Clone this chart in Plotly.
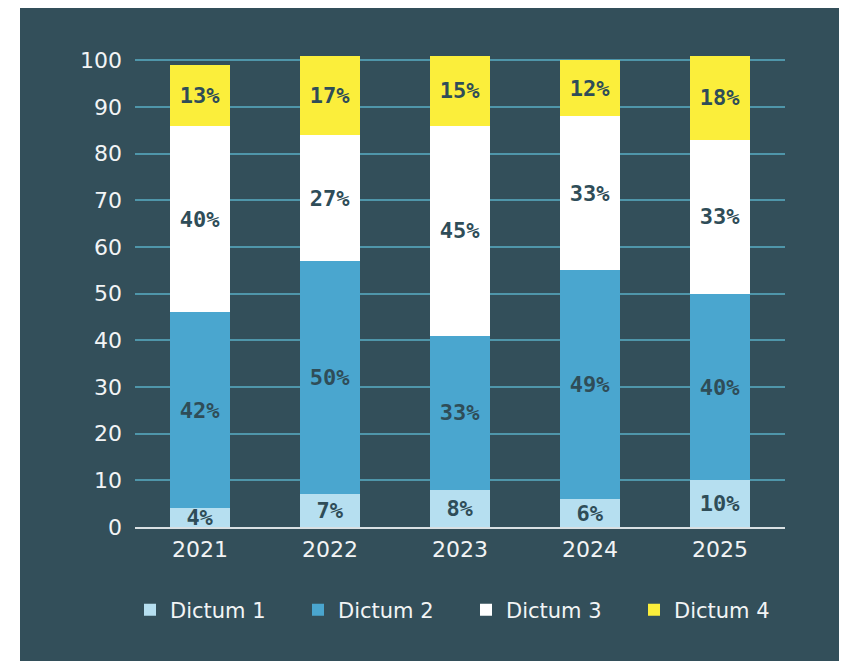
import plotly.graph_objects as go

years = ["2021", "2022", "2023", "2024", "2025"]
dictum1 = [4, 7, 8, 6, 10]
dictum2 = [42, 50, 33, 49, 40]
dictum3 = [40, 27, 45, 33, 33]
dictum4 = [13, 17, 15, 12, 18]
series_names = ["Dictum 1", "Dictum 2", "Dictum 3", "Dictum 4"]
series_values = [dictum1, dictum2, dictum3, dictum4]
colors = ["#b6dff0", "#4aa6cf", "#ffffff", "#fbee3b"]
y_ticks = [0, 10, 20, 30, 40, 50, 60, 70, 80, 90, 100]

BG = "#334f5a"
TEXT_DARK = "#2f4d58"

fig = go.Figure()
for name, vals, col in zip(series_names, series_values, colors):
    fig.add_trace(go.Bar(
        name=name, x=years, y=vals,
        marker=dict(color=col, line=dict(width=0)),
        texttemplate="%{y}%",
        textposition="inside",
        insidetextanchor="middle",
        constraintext="none",
        textangle=0,
        textfont=dict(family="DejaVu Sans Mono", size=22, color=TEXT_DARK, weight="bold"),
        hoverinfo="skip",
    ))

L, T = 127, 43
pw, ph = 650, 476
W, H = 870, 680
R = W - L - pw
B = H - T - ph

fig.update_layout(
    barmode="stack",
    bargap=0.533,
    width=W, height=H, autosize=False,
    margin=dict(l=L, r=R, t=T, b=B, pad=0),
    paper_bgcolor=BG,
    plot_bgcolor=BG,
    font=dict(family="DejaVu Sans", color="#f2f4f5"),
    showlegend=True,
    legend=dict(
        orientation="h",
        xref="paper", yref="paper",
        x=(122 - L) / pw, xanchor="left",
        y=(ph - (602 - T)) / ph, yanchor="middle",
        traceorder="normal",
        font=dict(family="DejaVu Sans", size=21, color="#f2f4f5"),
        bgcolor="rgba(0,0,0,0)",
        entrywidth=123, entrywidthmode="pixels",
    ),
    xaxis=dict(
        type="category",
        showgrid=False,
        showline=True, linecolor="#d9e0e3", linewidth=2,
        ticks="", ticklabelstandoff=2,
        tickfont=dict(family="DejaVu Sans", size=22, color="#f2f4f5"),
        zeroline=False,
        fixedrange=True,
    ),
    yaxis=dict(
        range=[0, 102],
        tickvals=y_ticks,
        showgrid=True, gridcolor="#4f96aa", gridwidth=2,
        zeroline=False,
        showline=False,
        ticks="", ticklabelstandoff=12,
        tickfont=dict(family="DejaVu Sans", size=22, color="#f2f4f5"),
        fixedrange=True,
    ),
    shapes=[dict(
        type="rect", xref="paper", yref="paper", layer="above",
        x0=-1, x1=(12 - L) / pw, y0=-1, y1=2,
        fillcolor="#ffffff", line=dict(width=0),
    )],
)

fig.write_html("out.html")
